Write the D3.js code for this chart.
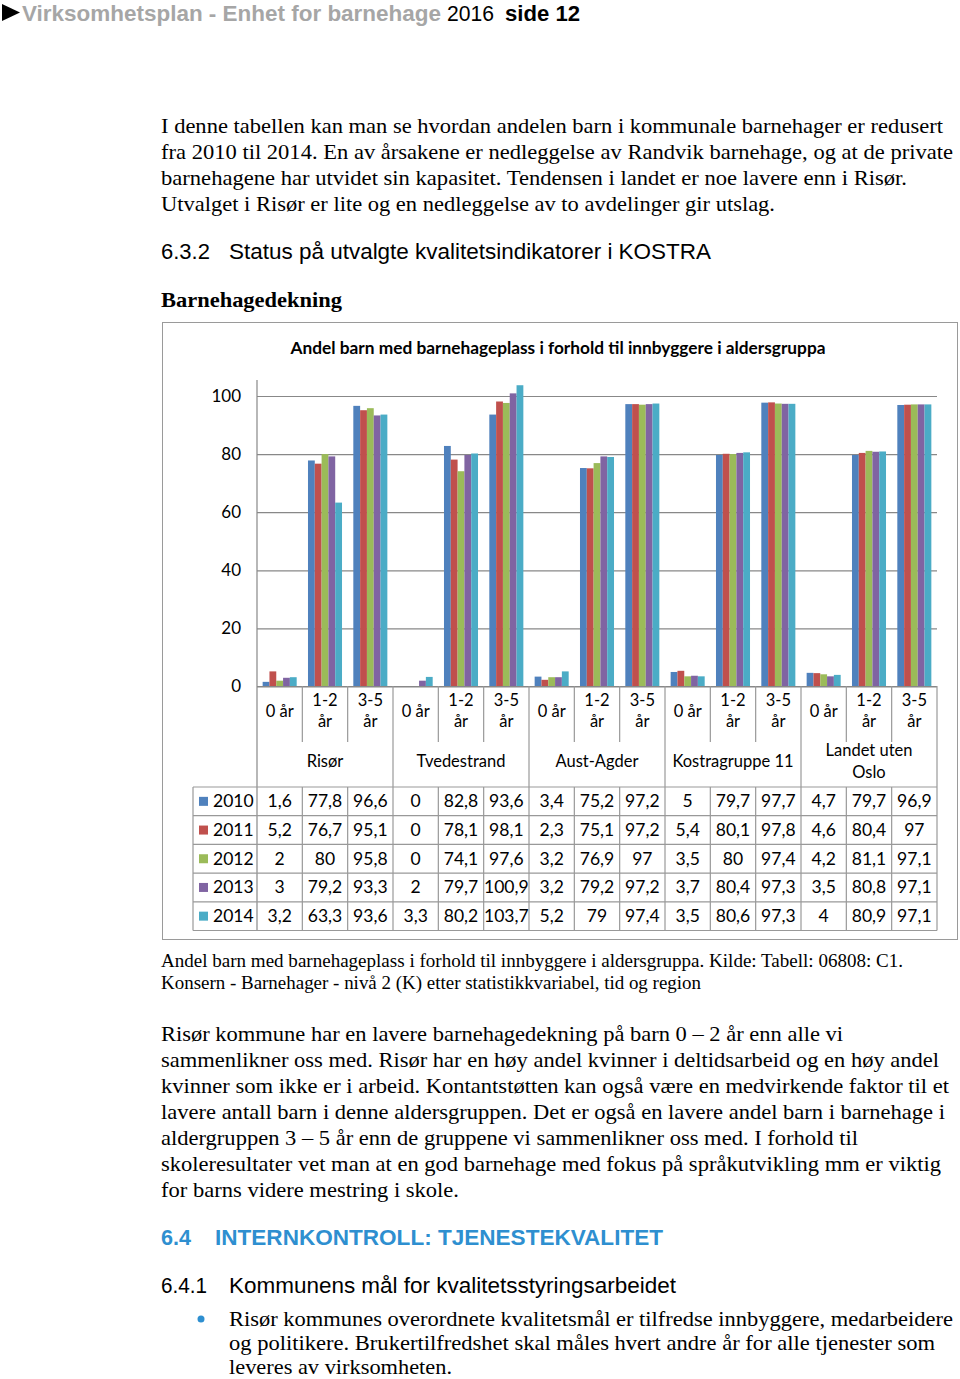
<!DOCTYPE html>
<html><head><meta charset="utf-8">
<script src="https://cdn.jsdelivr.net/npm/d3@7"></script>
<style>body{margin:0;background:#fff}svg{display:block}</style>
</head><body>
<script>
const groups = ["Risør","Tvedestrand","Aust-Agder","Kostragruppe 11","Landet uten Oslo"];
const ages = ["0 år","1-2 år","3-5 år"];
const years = ["2010","2011","2012","2013","2014"];
const values2010 = [1.6,77.8,96.6,0,82.8,93.6,3.4,75.2,97.2,5,79.7,97.7,4.7,79.7,96.9];
const values2011 = [5.2,76.7,95.1,0,78.1,98.1,2.3,75.1,97.2,5.4,80.1,97.8,4.6,80.4,97];
const values2012 = [2,80,95.8,0,74.1,97.6,3.2,76.9,97,3.5,80,97.4,4.2,81.1,97.1];
const values2013 = [3,79.2,93.3,2,79.7,100.9,3.2,79.2,97.2,3.7,80.4,97.3,3.5,80.8,97.1];
const values2014 = [3.2,63.3,93.6,3.3,80.2,103.7,5.2,79,97.4,3.5,80.6,97.3,4,80.9,97.1];
const yTicks = [0,20,40,60,80,100];
const colors = ["#4F81BD","#C0504D","#9BBB59","#8064A2","#4BACC6"];
const series = [values2010,values2011,values2012,values2013,values2014];

const categories = [];
groups.forEach((g,gi)=>ages.forEach((a,ai)=>categories.push({g,a,gi,ai,key:g+"|"+a})));

const W=960,H=1379;
const svg=d3.select("body").append("svg").attr("width",W).attr("height",H);
svg.append("rect").attr("width",W).attr("height",H).attr("fill","#fff");

function txt(x,y,s,o={}){
  const t=svg.append("text").attr("x",x).attr("y",y).text(s)
    .attr("font-family",o.family||"Liberation Serif")
    .attr("font-size",o.size||22)
    .attr("font-weight",o.weight||"normal")
    .attr("fill",o.fill||"#000")
    .attr("text-anchor",o.anchor||"start");
  if(o.len){t.attr("textLength",o.len).attr("lengthAdjust","spacingAndGlyphs");}
  return t;
}

// Header
svg.append("path").attr("d","M2,4 L20,12.5 L2,21 Z").attr("fill","#000");
txt(22,21,"Virksomhetsplan - Enhet for barnehage",{family:"Liberation Sans",weight:"bold",size:22,fill:"#A6A6A6",len:419});
txt(447,21,"2016",{family:"Liberation Sans",size:22,len:47});
txt(505,21,"side 12",{family:"Liberation Sans",weight:"bold",size:22,len:75});

// Paragraph 1
const p1=[["I denne tabellen kan man se hvordan andelen barn i kommunale barnehager er redusert",782],
["fra 2010 til 2014. En av årsakene er nedleggelse av Randvik barnehage, og at de private",792],
["barnehagene har utvidet sin kapasitet. Tendensen i landet er noe lavere enn i Risør.",746],
["Utvalget i Risør er lite og en nedleggelse av to avdelinger gir utslag.",614]];
p1.forEach((l,i)=>txt(161,133+i*26,l[0],{size:22,len:l[1]}));

txt(161,259,"6.3.2",{family:"Liberation Sans",size:22,len:49});
txt(229,259,"Status på utvalgte kvalitetsindikatorer i KOSTRA",{family:"Liberation Sans",size:22,len:482});
txt(161,307,"Barnehagedekning",{size:22,weight:"bold",len:181});

// Chart frame
svg.append("rect").attr("x",162.5).attr("y",322.5).attr("width",795).attr("height",617).attr("fill","#fff").attr("stroke","#9a9a9a");

txt(558,354,"Andel barn med barnehageplass i forhold til innbyggere i aldersgruppa",{family:"Lato",weight:"bold",size:17.5,anchor:"middle",len:535});

const x0=257,x1=937;
const x=d3.scaleBand().domain(categories.map(c=>c.key)).range([x0,x1]).padding(0);
const xi=d3.scaleBand().domain(years).range([0,x.bandwidth()]).paddingInner(0).paddingOuter(0.83);
const y=d3.scaleLinear().domain([0,105.5]).range([686.5,380]);

// gridlines
const yAxis=d3.axisLeft(y).tickValues(yTicks).tickSize(-(x1-x0)).tickPadding(16).tickFormat(d3.format("d"));
const ga=svg.append("g").attr("transform",`translate(${x0},0)`).call(yAxis);
ga.select(".domain").remove();
ga.selectAll(".tick line").attr("stroke","#888").attr("stroke-width",1.2);
ga.selectAll(".tick text").attr("font-family","Lato").attr("font-size",17).attr("fill","#000");

// bars
years.forEach((yr,si)=>{
  svg.append("g").selectAll("rect").data(series[si]).join("rect")
    .attr("x",(d,i)=>x(categories[i].key)+xi(yr))
    .attr("width",xi.bandwidth())
    .attr("y",d=>y(d))
    .attr("height",d=>y(0)-y(d))
    .attr("fill",colors[si]);
});

// axis lines
const lc="#999";
function ln(xa,ya,xb,yb,c){svg.append("line").attr("x1",xa).attr("y1",ya).attr("x2",xb).attr("y2",yb).attr("stroke",c||lc).attr("stroke-width",1.2);}
ln(x0,380,x0,930.5,"#888");
ln(x0,y(0),x1,y(0),"#888");

const tableTop=787, rowH=28.7;
const tableBot=tableTop+rowH*5;
categories.forEach((c,i)=>{
  const xl=x(c.key);
  if(i>0){
    if(c.ai===0) ln(xl,686,xl,tableBot);
    else {ln(xl,686,xl,742); ln(xl,tableTop,xl,tableBot);}
  }
});
ln(x1,686,x1,tableBot);
ln(193,tableTop,193,tableBot);
for(let r=0;r<=5;r++) ln(193,tableTop+r*rowH,x1,tableTop+r*rowH);

// age labels
categories.forEach(c=>{
  const cx=x(c.key)+x.bandwidth()/2;
  const parts=c.a.split(" ");
  if(c.ai===0){ txt(cx,717,c.a,{family:"Lato",size:16.5,anchor:"middle"}); }
  else {
    txt(cx,706,parts[0],{family:"Lato",size:16.5,anchor:"middle"});
    txt(cx,727,parts[1],{family:"Lato",size:16.5,anchor:"middle"});
  }
});
// group labels
groups.forEach((g,gi)=>{
  const xs=x(categories[gi*3].key), xe=x(categories[gi*3+2].key)+x.bandwidth();
  const cx=(xs+xe)/2;
  if(g==="Landet uten Oslo"){
    txt(cx,756,"Landet uten",{family:"Lato",size:16.5,anchor:"middle"});
    txt(cx,778,"Oslo",{family:"Lato",size:16.5,anchor:"middle"});
  } else txt(cx,767,g,{family:"Lato",size:16.5,anchor:"middle"});
});

// data table
const fmt=v=>String(v).replace(".",",");
years.forEach((yr,si)=>{
  const yc=tableTop+si*rowH+rowH/2;
  svg.append("rect").attr("x",199).attr("y",yc-4.5).attr("width",9).attr("height",9).attr("fill",colors[si]);
  txt(213,yc+6,yr,{family:"Lato",size:17.5});
  series[si].forEach((v,i)=>{
    txt(x(categories[i].key)+x.bandwidth()/2,yc+6,fmt(v),{family:"Lato",size:17.5,anchor:"middle"});
  });
});

// caption
txt(161,967,"Andel barn med barnehageplass i forhold til innbyggere i aldersgruppa. Kilde: Tabell: 06808: C1.",{size:18,len:742});
txt(161,989,"Konsern - Barnehager - nivå 2 (K) etter statistikkvariabel, tid og region",{size:18,len:540});

// paragraph 2
const p2=[["Risør kommune har en lavere barnehagedekning på barn 0 – 2 år enn alle vi",682],
["sammenlikner oss med. Risør har en høy andel kvinner i deltidsarbeid og en høy andel",778],
["kvinner som ikke er i arbeid. Kontantstøtten kan også være en medvirkende faktor til et",788],
["lavere antall barn i denne aldersgruppen. Det er også en lavere andel barn i barnehage i",784],
["aldergruppen 3 – 5 år enn de gruppene vi sammenlikner oss med. I forhold til",697],
["skoleresultater vet man at en god barnehage med fokus på språkutvikling mm er viktig",780],
["for barns videre mestring i skole.",298]];
p2.forEach((l,i)=>txt(161,1041+i*26,l[0],{size:22,len:l[1]}));

txt(161,1245,"6.4",{family:"Liberation Sans",weight:"bold",size:22,fill:"#2E8FD0",len:30});
txt(215,1245,"INTERNKONTROLL: TJENESTEKVALITET",{family:"Liberation Sans",weight:"bold",size:22,fill:"#2E8FD0",len:448});
txt(161,1293,"6.4.1",{family:"Liberation Sans",size:22,len:46});
txt(229,1293,"Kommunens mål for kvalitetsstyringsarbeidet",{family:"Liberation Sans",size:22,len:447});
svg.append("circle").attr("cx",201).attr("cy",1319).attr("r",3.5).attr("fill","#2E8FD0");
const p3=[["Risør kommunes overordnete kvalitetsmål er tilfredse innbyggere, medarbeidere",724],
["og politikere. Brukertilfredshet skal måles hvert andre år for alle tjenester som",706],
["leveres av virksomheten.",223]];
p3.forEach((l,i)=>txt(229,1326+i*24,l[0],{size:22,len:l[1]}));
</script>
</body></html>
